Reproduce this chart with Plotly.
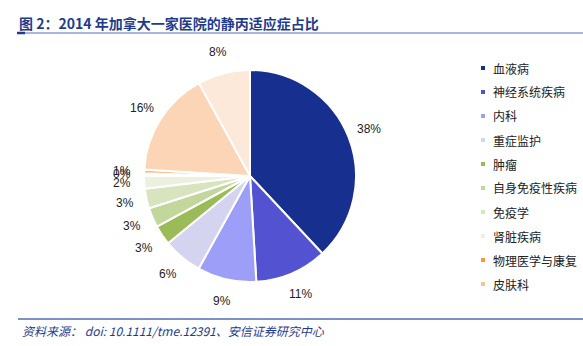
import math
import plotly.graph_objects as go

# data
categories = ["血液病", "神经系统疾病", "内科", "重症监护", "肿瘤", "自身免疫性疾病",
              "免疫学", "肾脏疾病", "物理医学与康复", "皮肤科", "其他A", "其他B"]
values = [38, 11, 9, 6, 3, 3, 3, 2, 0.3, 0.6, 16, 8]
colors = ["#172f8f", "#5353d1", "#9d9ef8", "#d4d4f0", "#9bbb59", "#c3d69b",
          "#d7e4bd", "#ebf1de", "#f79646", "#fac090", "#fbd5b5", "#fde9d9"]
legend_count = 10  # legend shows first 10 categories

title_text = "图 2：2014 年加拿大一家医院的静丙适应症占比"
source_text = "资料来源： doi: 10.1111/tme.12391、安信证券研究中心"

W, H = 583, 346
cx, cy, r = 250, 176, 106
label_r = 128

fig = go.Figure()
fig.add_trace(go.Pie(
    labels=categories, values=values, sort=False, direction="clockwise", rotation=0,
    marker=dict(colors=colors, line=dict(color="white", width=2)),
    textinfo="none",
    showlegend=False, hoverinfo="label+percent",
    domain=dict(x=[(cx - r) / W, (cx + r) / W], y=[(H - cy - r) / H, (H - cy + r) / H]),
))

shapes = []
annotations = []

# percentage labels placed outside each slice (derived from values)
total = sum(values)
cum = 0.0
for v in values:
    mid = (cum + v / 2) / total
    cum += v
    ang = 2 * math.pi * mid
    px = cx + label_r * math.sin(ang)
    py = cy - label_r * math.cos(ang)
    annotations.append(dict(text=f"{round(100 * v / total)}%", xref="paper", yref="paper",
                            x=px / W, y=1 - py / H, xanchor="center", yanchor="middle",
                            showarrow=False,
                            font=dict(family="Liberation Sans, Arial", size=12, color="#222222")))

# legend drawn from data
for i in range(legend_count):
    y = 68 + 24 * i
    shapes.append(dict(type="rect", xref="paper", yref="paper",
                       x0=481 / W, x1=485 / W, y0=1 - (y + 2) / H, y1=1 - (y - 2) / H,
                       fillcolor=colors[i], line=dict(width=0)))
    annotations.append(dict(text=categories[i], xref="paper", yref="paper",
                            x=491 / W, y=1 - y / H, xanchor="left", yanchor="middle",
                            showarrow=False,
                            font=dict(family="Noto Sans CJK SC", size=12, color="#222222")))

# title & footer
annotations.append(dict(text="<b>" + title_text + "</b>", xref="paper", yref="paper",
                        x=17 / W, y=1 - 23 / H, xanchor="left", yanchor="middle", showarrow=False,
                        font=dict(family="Noto Sans CJK SC", size=14, color="#1f3c8c")))
annotations.append(dict(text="<i>" + source_text + "</i>", xref="paper", yref="paper",
                        x=20 / W, y=1 - 330 / H, xanchor="left", yanchor="middle", showarrow=False,
                        font=dict(family="Noto Sans CJK SC", size=12, color="#1f3c8c")))
shapes.append(dict(type="line", xref="paper", yref="paper", x0=17 / W, x1=1, y0=1 - 33 / H, y1=1 - 33 / H,
                   line=dict(color="#8e9fd2", width=1.5)))
shapes.append(dict(type="line", xref="paper", yref="paper", x0=17 / W, x1=25 / W, y0=1 - 33 / H, y1=1 - 33 / H,
                   line=dict(color="#1f3c8c", width=2.5)))
shapes.append(dict(type="line", xref="paper", yref="paper", x0=18 / W, x1=1, y0=1 - 319 / H, y1=1 - 319 / H,
                   line=dict(color="#4f6db5", width=1.5)))

fig.update_layout(width=W, height=H, margin=dict(l=0, r=0, t=0, b=0),
                  paper_bgcolor="white", plot_bgcolor="white",
                  shapes=shapes, annotations=annotations)
fig.write_html("out.html")
